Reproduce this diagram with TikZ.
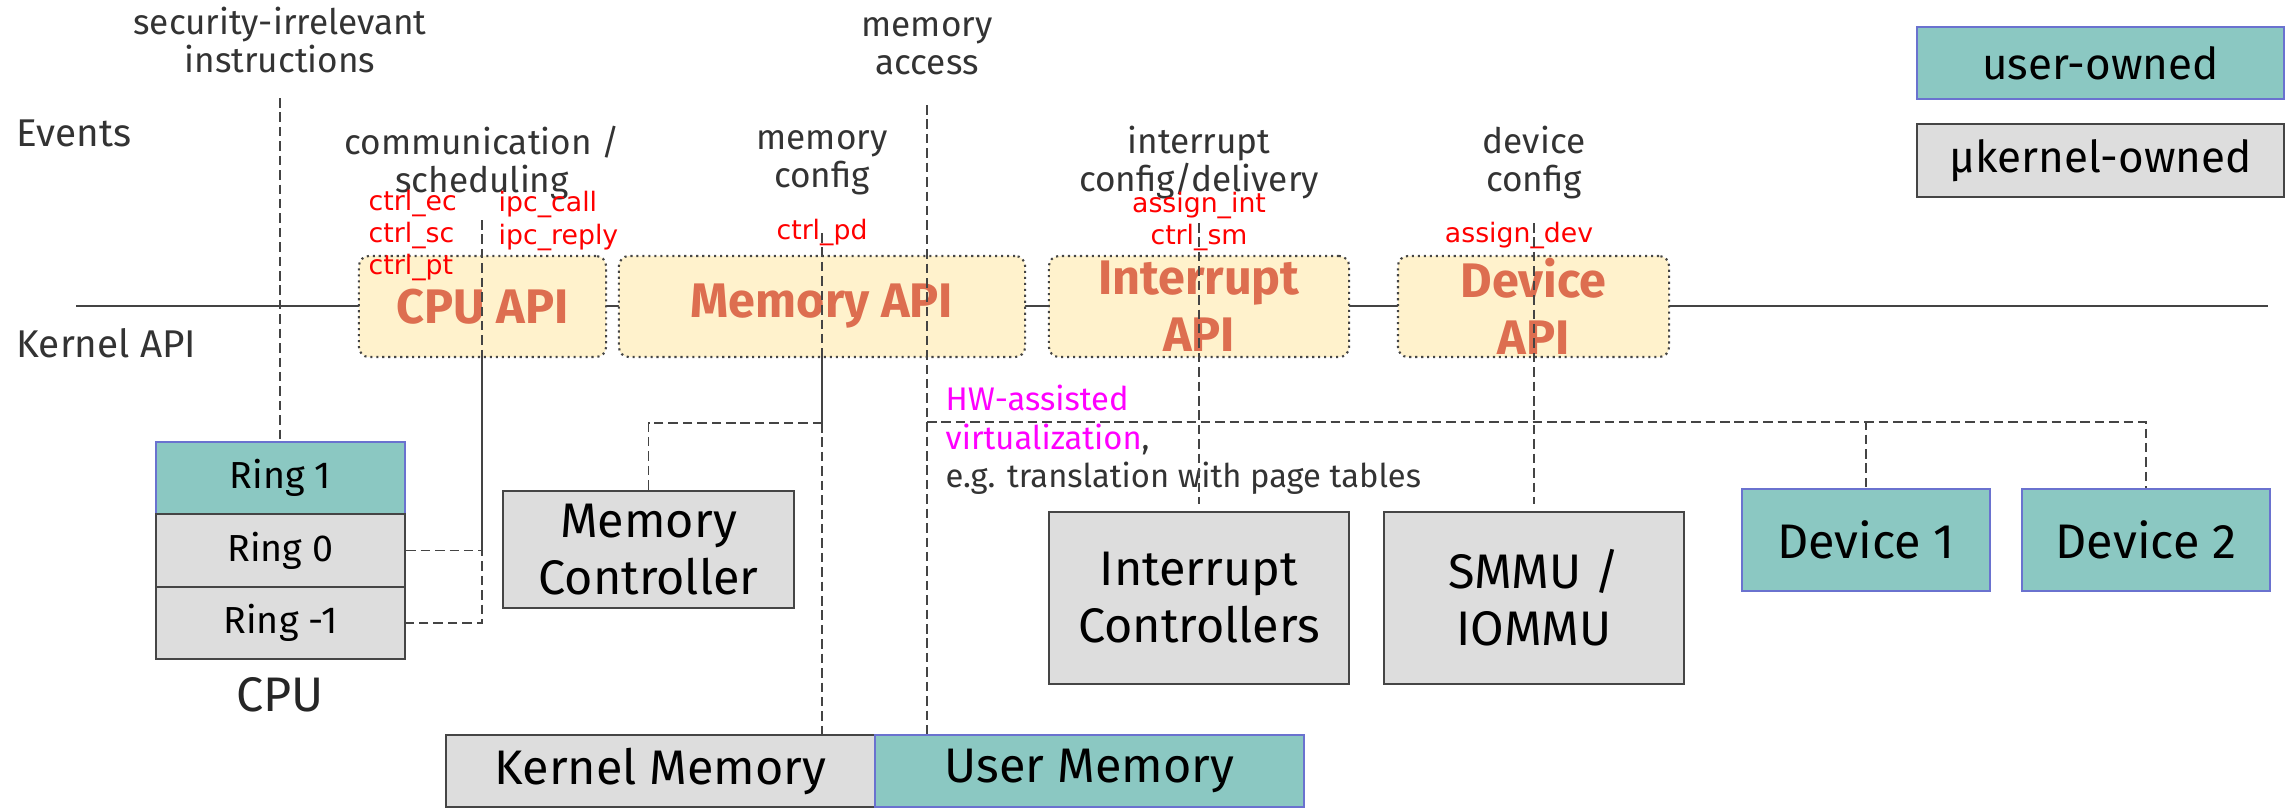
\documentclass[tikz,border=0pt]{standalone}
\usepackage{fontspec}
\setmainfont{Fira Sans}
\newfontfamily\callfont{DejaVu Sans}
\usetikzlibrary{calc}

\definecolor{userfill}{HTML}{8BC8C2}
\definecolor{userline}{HTML}{6A72CF}
\definecolor{kernfill}{HTML}{DDDDDD}
\definecolor{kernline}{HTML}{454545}
\definecolor{apifill}{HTML}{FFF2CC}
\definecolor{apitext}{HTML}{DD6E50}
\definecolor{dotline}{HTML}{444444}
\definecolor{wire}{HTML}{444444}
\definecolor{labeltext}{HTML}{333333}
\definecolor{callred}{HTML}{FF0000}
\definecolor{hwpink}{HTML}{FF00FF}

\begin{document}
\begin{tikzpicture}[x=0.01cm, y=-0.01cm,
  evlabel/.style={text=labeltext, font=\fontsize{10}{10.8}\selectfont, align=center, inner sep=0pt},
  sidelabel/.style={text=labeltext, font=\fontsize{11}{13}\selectfont, anchor=west, inner sep=0pt},
  apibox/.style={draw=dotline, line width=0.6pt, dash pattern=on 0.6pt off 1.1pt,
    fill=apifill, rounded corners=0.1cm, text=apitext, align=center, inner sep=0pt,
    font=\fontsize{13.8}{16.2}\selectfont\bfseries},
  userbox/.style={draw=userline, line width=0.6pt, fill=userfill, align=center, inner sep=0pt},
  kernbox/.style={draw=kernline, line width=0.7pt, fill=kernfill, align=center, inner sep=0pt},
  bigtext/.style={font=\fontsize{13.8}{16.2}\selectfont},
  ringtext/.style={font=\fontsize{10.7}{12}\selectfont},
  legendtext/.style={font=\fontsize{12.5}{15}\selectfont},
  callname/.style={text=callred, font=\callfont\fontsize{7.6}{8.5}\selectfont, inner sep=0pt},
  link/.style={draw=wire, line width=0.45pt, dash pattern=on 2.7pt off 1.4pt},
  solidlink/.style={draw=wire, line width=0.45pt},
  apiline/.style={draw=wire, line width=0.6pt}
]
\useasboundingbox (0,0) rectangle (2292,808);

% row titles
\node[sidelabel] (events) at (16,133) {Events};
\node[sidelabel] (kapi) at (16,343) {Kernel API};

% event labels
\node[evlabel] (secirr) at (280,40) {security-irrelevant\\instructions};
\node[evlabel] (memacc) at (927,46) {memory\\access};
\node[evlabel] (commsched) at (482,163) {communication /\\scheduling};
\node[evlabel] (memcfg) at (822,163) {memory\\config};
\node[evlabel] (intcfg) at (1199,163) {interrupt\\config/delivery};
\node[evlabel] (devcfg) at (1534,163) {device\\config};

% legend
\node[userbox, legendtext, minimum width=3.67cm, minimum height=0.72cm] (leguser) at (2100.5,63) {user-owned};
\node[kernbox, legendtext, minimum width=3.67cm, minimum height=0.73cm] (legkern) at (2100.5,160.5) {µkernel-owned};

% kernel API line and API groups
\coordinate (klineL) at (76,306);
\coordinate (klineR) at (2268,306);
\draw[apiline] (klineL) -- (klineR);

\node[apibox, minimum width=2.47cm, minimum height=1.01cm] (cpuapi) at (482.5,306.5) {CPU API};
\node[apibox, minimum width=4.06cm, minimum height=1.01cm] (memapi) at (822,306.5) {Memory API};
\node[apibox, minimum width=3.00cm, minimum height=1.01cm] (intapi) at (1199,306.5) {Interrupt\\API};
\node[apibox, minimum width=2.71cm, minimum height=1.01cm] (devapi) at (1533.5,306.5) {Device\\API};

% system calls
\node[callname, anchor=west] (ctrlec) at (368,203) {ctrl\_ec};
\node[callname, anchor=west] (ctrlsc) at (368,235) {ctrl\_sc};
\node[callname, anchor=west] (ctrlpt) at (368,267) {ctrl\_pt};
\node[callname, anchor=west] (ipccall) at (498,204) {ipc\_call};
\node[callname, anchor=west] (ipcreply) at (498,237) {ipc\_reply};
\node[callname] (ctrlpd) at (822,232) {ctrl\_pd};
\node[callname] (assignint) at (1199,205) {assign\_int};
\node[callname] (ctrlsm) at (1199,237) {ctrl\_sm};
\node[callname] (assigndev) at (1519,235) {assign\_dev};

% CPU
\node[userbox, ringtext, minimum width=2.49cm, minimum height=0.72cm] (ring1) at (280.5,478) {Ring 1};
\node[kernbox, ringtext, minimum width=2.49cm, minimum height=0.73cm] (ring0) at (280.5,550.5) {Ring 0};
\node[kernbox, ringtext, minimum width=2.49cm, minimum height=0.72cm] (ringm1) at (280.5,623) {Ring -1};
\node[bigtext, text=black!85, inner sep=0pt] (cpu) at (280,695) {CPU};

% hardware
\node[kernbox, bigtext, minimum width=2.91cm, minimum height=1.17cm] (memctl) at (648.5,549.5) {Memory\\Controller};
\node[kernbox, bigtext, minimum width=3.00cm, minimum height=1.72cm] (intctl) at (1199,598) {Interrupt\\Controllers};
\node[kernbox, bigtext, minimum width=3.00cm, minimum height=1.72cm] (smmu) at (1534,598) {SMMU /\\IOMMU};
\node[userbox, bigtext, minimum width=2.48cm, minimum height=1.02cm] (dev1) at (1866,540) {Device 1};
\node[userbox, bigtext, minimum width=2.48cm, minimum height=1.02cm] (dev2) at (2146,540) {Device 2};
\node[kernbox, bigtext, minimum width=4.29cm, minimum height=0.72cm] (kmem) at (660.5,771) {Kernel Memory};
\node[userbox, bigtext, minimum width=4.29cm, minimum height=0.72cm] (umem) at (1089.5,771) {User Memory};

% virtualization note
\node[text=labeltext, font=\fontsize{9.3}{11}\selectfont, align=left, anchor=west, inner sep=0pt] (hwnote) at (945,440)
  {\textcolor{hwpink}{HW-assisted}\\\textcolor{hwpink}{virtualization},\\e.g. translation with page tables};

% security-irrelevant instructions
\coordinate (secTop) at (280,98);
\draw[link] (secTop) -- (secTop |- ring1.north);

% communication / scheduling
\coordinate (cpuTop) at (482,220);
\draw[link] (cpuTop) -- (cpuTop |- cpuapi.south);
\draw[solidlink] (cpuTop |- cpuapi.south) -- (cpuTop |- ring0.east);
\draw[link] (ring0.east) -- (cpuTop |- ring0.east) -- (cpuTop |- ringm1.east) -- (ringm1.east);

% memory config
\coordinate (memTop) at (822,233);
\coordinate (memJ) at (822,423);
\draw[link] (memTop) -- (memTop |- memapi.south);
\draw[solidlink] (memTop |- memapi.south) -- (memJ);
\draw[link] (memJ) -- (memJ |- kmem.north);
\draw[link] (memJ) -| (memctl.north);

% memory access
\coordinate (accTop) at (927,105);
\coordinate (accJ) at (927,422);
\draw[link] (accTop) -- (accTop |- umem.north);
\draw[link] (accJ) -| (dev1.north);
\draw[link] (accJ) -| (dev2.north);

% interrupt config / delivery
\coordinate (intTop) at (1199,223);
\draw[link, shorten >=0.07cm] (intTop) -- (intTop |- intctl.north);

% device config
\coordinate (devTop) at (1534,223);
\draw[link, shorten >=0.07cm] (devTop) -- (devTop |- smmu.north);
\end{tikzpicture}
\end{document}
